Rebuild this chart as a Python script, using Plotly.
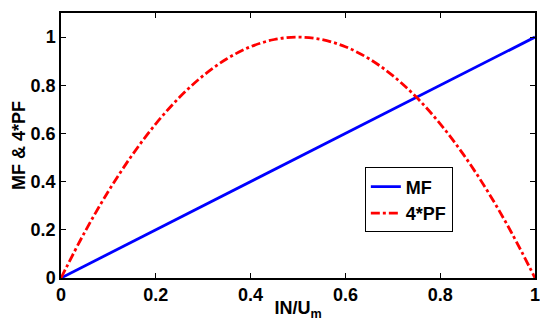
import plotly.graph_objects as go

x_vals = [0, 0.05, 0.1, 0.15, 0.2, 0.25, 0.3, 0.35, 0.4, 0.45, 0.5,
          0.55, 0.6, 0.65, 0.7, 0.75, 0.8, 0.85, 0.9, 0.95, 1.0]
mf_vals = [0, 0.05, 0.1, 0.15, 0.2, 0.25, 0.3, 0.35, 0.4, 0.45, 0.5,
           0.55, 0.6, 0.65, 0.7, 0.75, 0.8, 0.85, 0.9, 0.95, 1.0]
pf4_vals = [0, 0.19, 0.36, 0.51, 0.64, 0.75, 0.84, 0.91, 0.96, 0.99, 1.0,
            0.99, 0.96, 0.91, 0.84, 0.75, 0.64, 0.51, 0.36, 0.19, 0]
tick_vals = [0, 0.2, 0.4, 0.6, 0.8, 1]
tick_text = ["0", "0.2", "0.4", "0.6", "0.8", "1"]

FONT = "Liberation Sans, Arial, sans-serif"

fig = go.Figure()
fig.add_trace(go.Scatter(x=x_vals, y=mf_vals, mode="lines", name="<b>MF</b>",
                         line=dict(color="#0000ff", width=2.8)))
fig.add_trace(go.Scatter(x=x_vals, y=pf4_vals, mode="lines", name="<b>4*PF</b>",
                         line=dict(color="#ff0000", width=2.8, dash="dashdot", shape="spline")))

axis_common = dict(showline=True, linecolor="black", linewidth=1.5, mirror="ticks",
                   ticks="inside", ticklen=5, tickcolor="black", showgrid=False,
                   zeroline=False, automargin=False,
                   tickfont=dict(family=FONT, size=18, color="black"))

bold_ticks = ["<b>" + t + "</b>" for t in tick_text]

fig.update_xaxes(range=[0, 1], tickvals=tick_vals, ticktext=bold_ticks,
                 title=dict(text="<b>IN/U<sub>m</sub></b>", standoff=0,
                            font=dict(family=FONT, size=18, color="black")),
                 **axis_common)
fig.update_yaxes(range=[0, 1.1], tickvals=tick_vals, ticktext=bold_ticks,
                 title=dict(text="<b>MF & 4*PF</b>", standoff=0,
                            font=dict(family=FONT, size=18, color="black")),
                 **axis_common)

fig.update_layout(
    width=550, height=321,
    margin=dict(l=61, r=15, t=13, b=43),
    paper_bgcolor="white", plot_bgcolor="white",
    showlegend=True,
    legend=dict(x=0.641, y=0.417, xanchor="left", yanchor="top",
                bgcolor="white", bordercolor="black", borderwidth=1,
                font=dict(family=FONT, size=18, color="black"),
                itemwidth=30, tracegroupgap=0),
)

fig.write_html("out.html", config={"displayModeBar": False},
               post_script="document.body.style.margin='0';document.body.style.overflow='hidden';")
